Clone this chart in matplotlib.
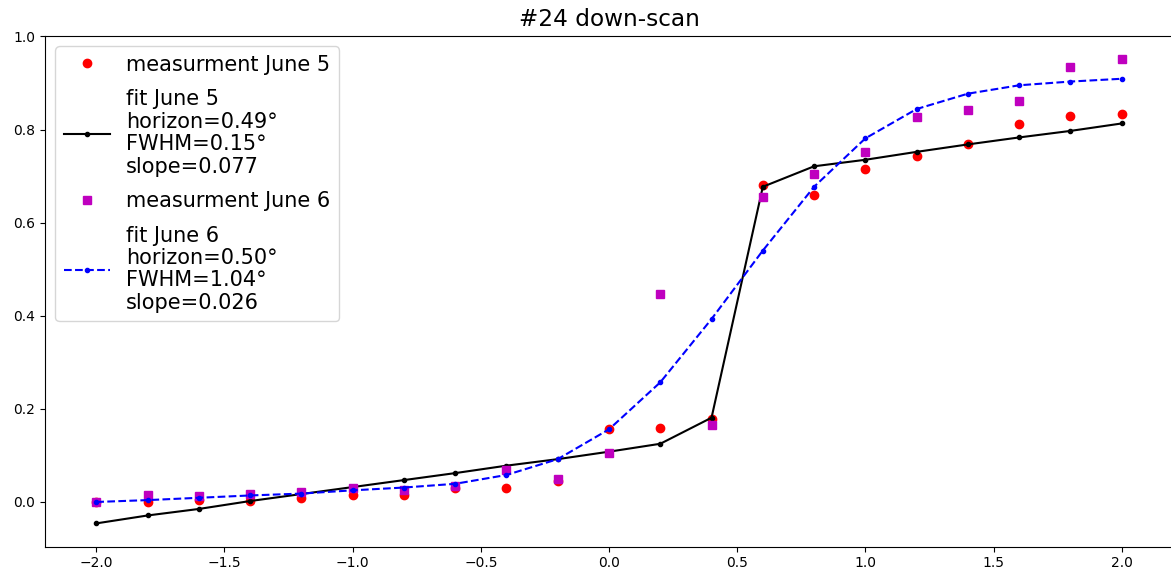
import numpy as np
import matplotlib
matplotlib.use("Agg")
import matplotlib.pyplot as plt

# scan angles (deg)
angles = [-2.0, -1.8, -1.6, -1.4, -1.2, -1.0, -0.8, -0.6, -0.4, -0.2,
          0.0, 0.2, 0.4, 0.6, 0.8, 1.0, 1.2, 1.4, 1.6, 1.8, 2.0]

# measured signal, June 5
meas_jun5 = [0.000, 0.000, 0.005, 0.002, 0.008, 0.016, 0.016, 0.031, 0.030, 0.046,
             0.157, 0.158, 0.178, 0.680, 0.660, 0.716, 0.743, 0.768, 0.812, 0.829, 0.834]

# fitted curve, June 5
fit_jun5 = [-0.046, -0.029, -0.015, 0.002, 0.017, 0.032, 0.047, 0.062, 0.078, 0.092,
            0.108, 0.125, 0.181, 0.677, 0.721, 0.735, 0.752, 0.768, 0.783, 0.797, 0.813]

# measured signal, June 6
meas_jun6 = [0.000, 0.014, 0.013, 0.018, 0.021, 0.030, 0.025, 0.034, 0.069, 0.049,
             0.105, 0.447, 0.166, 0.655, 0.705, 0.752, 0.826, 0.842, 0.862, 0.935, 0.951]

# fitted curve, June 6
fit_jun6 = [0.000, 0.004, 0.009, 0.014, 0.018, 0.025, 0.031, 0.039, 0.058, 0.092,
            0.156, 0.257, 0.393, 0.540, 0.677, 0.781, 0.844, 0.877, 0.895, 0.903, 0.909]

fit5_label = "fit June 5\nhorizon=0.49°\nFWHM=0.15°\nslope=0.077"
fit6_label = "fit June 6\nhorizon=0.50°\nFWHM=1.04°\nslope=0.026"

fig = plt.figure(figsize=(11.71, 5.74), dpi=100)
ax = fig.add_axes([45 / 1171, 27.4 / 574, 1128 / 1171, 510.6 / 574])

ax.plot(angles, meas_jun5, "ro", label="measurment June 5")
ax.plot(angles, fit_jun5, "k.-", label=fit5_label)
ax.plot(angles, meas_jun6, "ms", label="measurment June 6")
ax.plot(angles, fit_jun6, "b.--", label=fit6_label)

ax.set_title("#24 down-scan", fontsize=16.7, pad=7)
leg = ax.legend(loc="upper left", fontsize=15, labelspacing=0.7, handlelength=2.2)
for t in leg.get_texts():
    t.set_linespacing(1.15)

fig.savefig("out.png", dpi=100)
